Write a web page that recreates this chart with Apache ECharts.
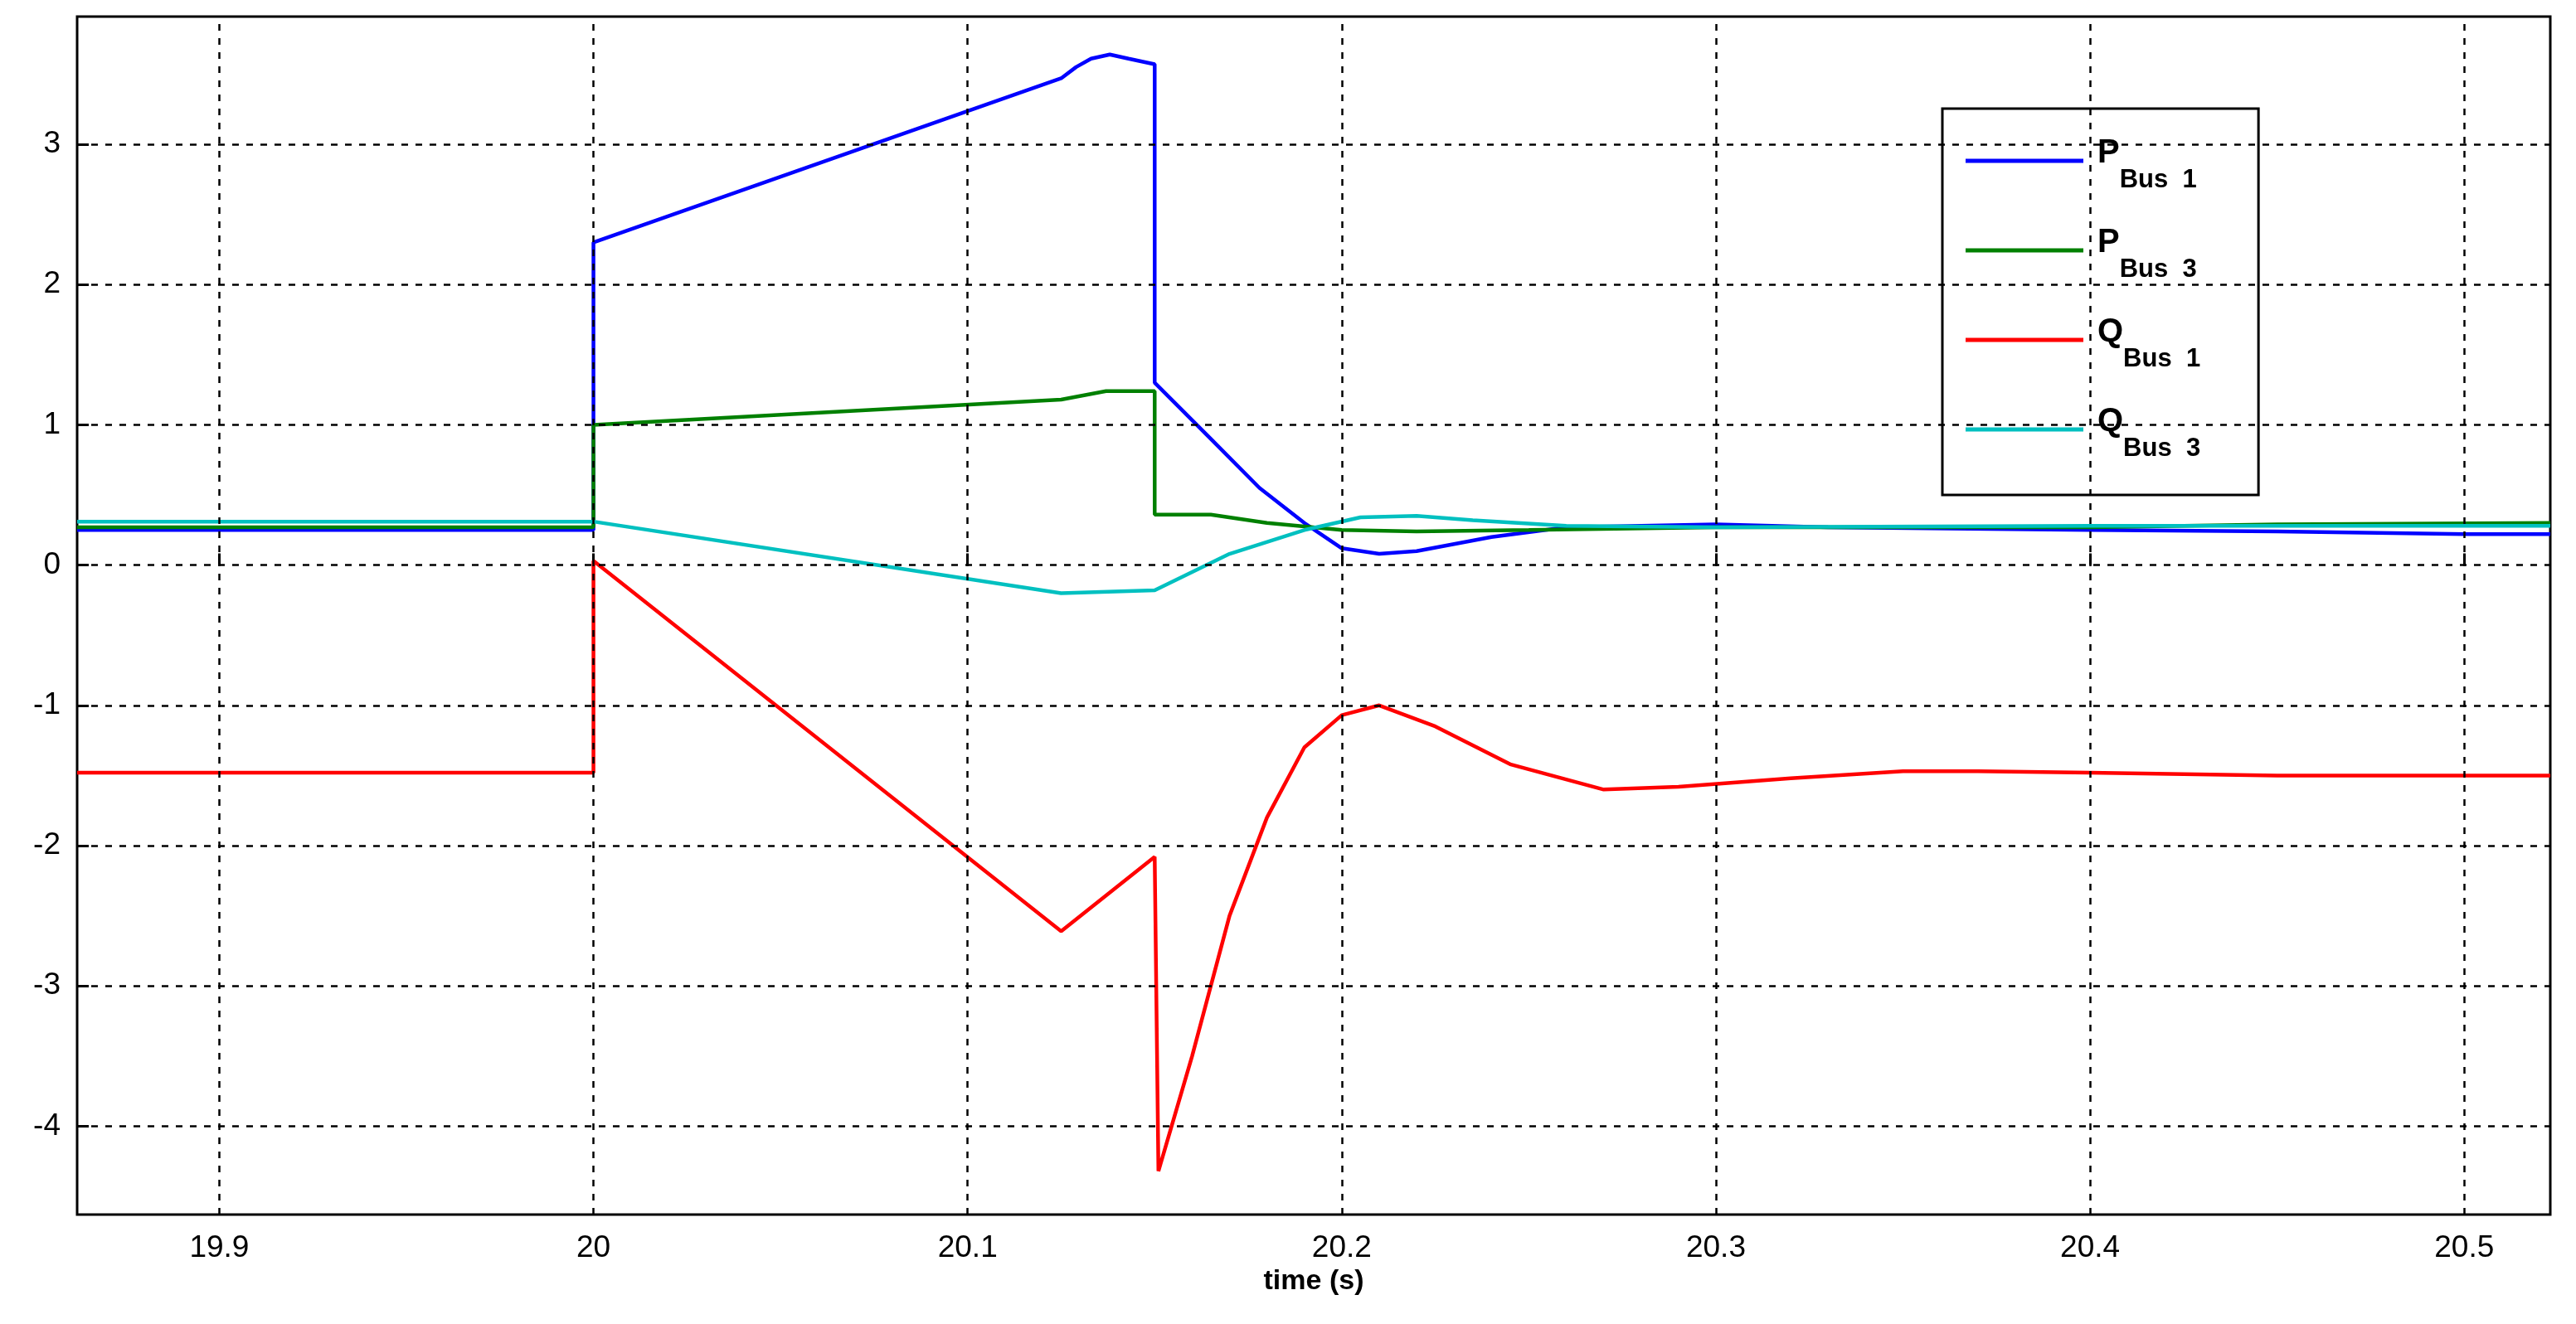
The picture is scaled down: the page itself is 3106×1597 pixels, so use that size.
<!DOCTYPE html>
<html>
<head>
<meta charset="utf-8">
<script src="https://cdn.jsdelivr.net/npm/echarts@6/dist/echarts.min.js"></script>
<style>html,body{margin:0;padding:0;background:#fff}#chart{width:3106px;height:1597px}</style>
</head>
<body>
<div id="chart"></div>
<script>
const xTicks = [19.9, 20, 20.1, 20.2, 20.3, 20.4, 20.5];
const yTicks = [-4, -3, -2, -1, 0, 1, 2, 3];

const pBus1 = [[19.862,0.25],[20,0.25],[20,2.3],[20.125,3.47],[20.129,3.55],[20.133,3.61],[20.138,3.64],[20.143,3.61],[20.15,3.57],[20.15,1.3],[20.165,0.9],[20.178,0.55],[20.19,0.3],[20.2,0.12],[20.21,0.08],[20.22,0.1],[20.24,0.2],[20.26,0.27],[20.3,0.29],[20.33,0.27],[20.4,0.25],[20.45,0.24],[20.5,0.22],[20.523,0.22]];
const pBus3 = [[19.862,0.27],[20,0.27],[20,1.0],[20.125,1.18],[20.137,1.24],[20.15,1.24],[20.15,0.36],[20.165,0.36],[20.18,0.3],[20.2,0.25],[20.22,0.24],[20.25,0.25],[20.3,0.27],[20.4,0.27],[20.45,0.29],[20.523,0.3]];
const qBus1 = [[19.862,-1.48],[20,-1.48],[20,0.03],[20.125,-2.61],[20.15,-2.08],[20.151,-4.32],[20.16,-3.5],[20.17,-2.5],[20.18,-1.8],[20.19,-1.3],[20.2,-1.07],[20.21,-1.0],[20.225,-1.15],[20.245,-1.42],[20.27,-1.6],[20.29,-1.58],[20.32,-1.52],[20.35,-1.47],[20.37,-1.47],[20.4,-1.48],[20.45,-1.5],[20.523,-1.5]];
const qBus3 = [[19.862,0.31],[20,0.31],[20.125,-0.2],[20.15,-0.18],[20.16,-0.05],[20.17,0.08],[20.19,0.25],[20.205,0.34],[20.22,0.35],[20.235,0.32],[20.26,0.28],[20.3,0.27],[20.4,0.28],[20.523,0.28]];

const font = 'Liberation Sans Narrow, Liberation Sans, Arial';
const chart = echarts.init(document.getElementById('chart'));
const gridStyle = { color: '#000', type: [8, 9], width: 2.5 };

const mk = (name, data, color) => ({
    name, type: 'line', data, showSymbol: false, symbol: 'none',
    lineStyle: { color, width: 4.5 }, itemStyle: { color }, z: 3, animation: false
});

const series = [
    mk('P1', pBus1, '#0000ff'),
    mk('P3', pBus3, '#008000'),
    mk('Q1', qBus1, '#ff0000'),
    mk('Q3', qBus3, '#00c0c0'),
    {
        type: 'line', data: [], silent: true, z: 1,
        markLine: {
            symbol: 'none', silent: true, animation: false, label: { show: false },
            lineStyle: gridStyle,
            data: xTicks.map(v => ({ xAxis: v })).concat(yTicks.map(v => ({ yAxis: v })))
        }
    }
];

const sub = (a, b) => `{b|${a}}{s|Bus  ${b}}`;
const names = { P1: sub('P', 1), P3: sub('P', 3), Q1: sub('Q', 1), Q3: sub('Q', 3) };

chart.setOption({
    backgroundColor: '#fff',
    animation: false,
    grid: { left: 93, right: 31, top: 20, bottom: 132, show: true, borderColor: '#000', borderWidth: 3 },
    legend: {
        data: ['P1', 'P3', 'Q1', 'Q3'],
        orient: 'vertical', left: 2342, top: 131,
        padding: [34, 70, 40, 28],
        itemGap: 40, itemWidth: 142, itemHeight: 5, icon: 'rect',
        backgroundColor: '#fff', borderColor: '#000', borderWidth: 3,
        formatter: n => names[n],
        textStyle: {
            padding: [0, 0, 0, 12],
            rich: {
                b: { fontFamily: 'Liberation Sans, Arial', fontWeight: 'bold', fontSize: 40, color: '#000', verticalAlign: 'bottom', padding: [0, 0, 18, 0] },
                s: { fontFamily: font, fontWeight: 'bold', fontSize: 31, color: '#000', verticalAlign: 'bottom', padding: [0, 0, -10, 0] }
            }
        }
    },
    xAxis: {
        type: 'value', min: 19.862, max: 20.523,
        name: 'time (s)', nameLocation: 'middle', nameGap: 62,
        nameTextStyle: { fontFamily: 'Liberation Sans, Arial', fontWeight: 'bold', fontSize: 34, color: '#000' },
        axisLine: { show: false },
        splitLine: { show: false },
        axisTick: { inside: true, length: 14, lineStyle: { color: '#000', width: 3 }, customValues: xTicks },
        axisLabel: { customValues: xTicks, fontFamily: font, fontSize: 37, color: '#000', margin: 22, formatter: v => String(+v.toFixed(1)) }
    },
    yAxis: {
        type: 'value', min: -4.63, max: 3.91,
        axisLine: { show: false },
        splitLine: { show: false },
        axisTick: { inside: true, length: 14, lineStyle: { color: '#000', width: 3 }, customValues: yTicks },
        axisLabel: { customValues: yTicks, fontFamily: font, fontSize: 37, color: '#000', margin: 20, formatter: v => String(Math.round(v)) }
    },
    series
});
</script>
</body>
</html>
